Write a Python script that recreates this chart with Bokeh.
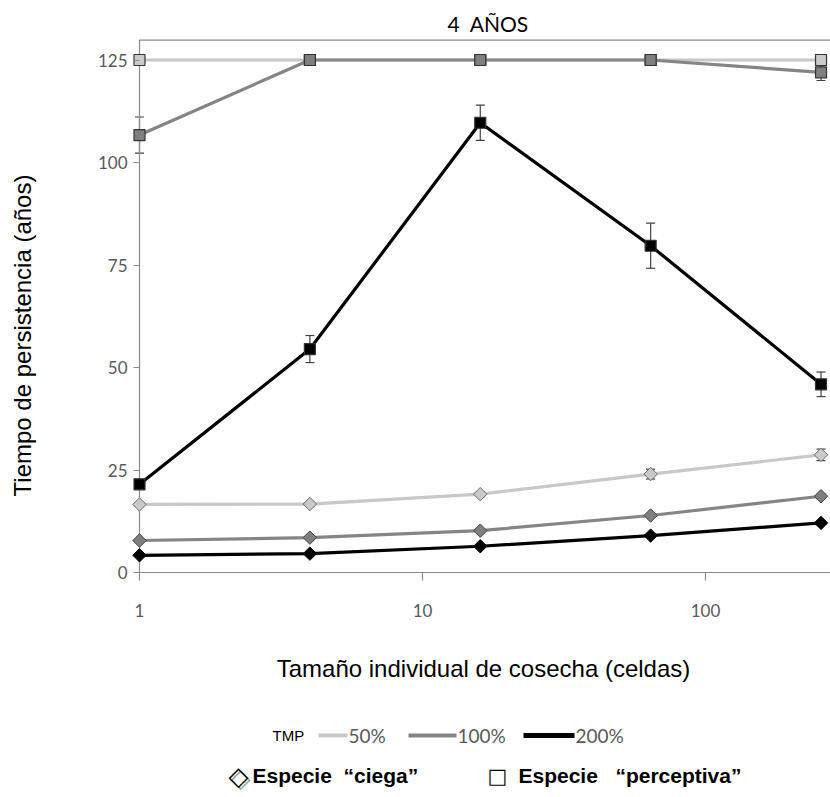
import math

from bokeh.embed import file_html
from bokeh.models import (BoxAnnotation, ColumnDataSource, FixedTicker, Label,
                          NumeralTickFormatter, Range1d, TeeHead, Whisker)
from bokeh.plotting import figure
from bokeh.resources import INLINE

# Harvest patch size (cells) on a log axis
harvest_size = [1, 4, 16, 64, 256]
y_ticks = [0, 25, 50, 75, 100, 125]
x_ticks = [1, 10, 100]

# "Perceptiva" species (squares): persistence time (years) and error
perc_50 = [125.0, 125.0, 125.0, 125.0, 125.0]
perc_50_err = [0.0, 0.0, 0.0, 0.0, 0.0]
perc_100 = [106.7, 125.0, 125.0, 125.0, 122.0]
perc_100_err = [4.4, 0.0, 0.0, 0.0, 2.0]
perc_200 = [21.5, 54.5, 109.7, 79.7, 45.9]
perc_200_err = [0.8, 3.3, 4.3, 5.5, 3.0]

# "Ciega" species (diamonds)
ciega_50 = [16.6, 16.7, 19.1, 24.0, 28.7]
ciega_50_err = [0.5, 0.6, 0.6, 1.2, 1.4]
ciega_100 = [7.8, 8.5, 10.2, 13.9, 18.6]
ciega_100_err = [0.3, 0.3, 0.4, 0.5, 0.6]
ciega_200 = [4.2, 4.6, 6.4, 9.0, 12.1]
ciega_200_err = [0.2, 0.2, 0.3, 0.4, 0.5]

tmp_labels = ["50%", "100%", "200%"]

LINE_COLORS = ["#c8c8c8", "#858585", "#000000"]
FILL_COLORS = ["#cacaca", "#7f7f7f", "#000000"]
EDGE_COLORS = ["#6a6a6a", "#404040", "#000000"]
AXIS_GRAY = "#8a8a8a"
LABEL_GRAY = "#595959"

W, H = 830, 797
TOP = 39                      # plotting area starts under the title
PX_PER_DECADE = 283.0
AXIS_X_PX, AXIS_Y_PX = 139, 572   # where x = 1 and y = 0 fall on the page
PX_PER_YEAR = (AXIS_Y_PX - TOP) / 130.0

X_START = 10 ** (-AXIS_X_PX / PX_PER_DECADE)
X_END = 10 ** ((W - AXIS_X_PX) / PX_PER_DECADE)
Y_END = 130
Y_START = -(H - AXIS_Y_PX) / PX_PER_YEAR

p = figure(width=W, height=H, x_axis_type="log",
           x_range=Range1d(X_START, X_END), y_range=Range1d(Y_START, Y_END),
           output_backend="svg", toolbar_location=None,
           min_border_left=0, min_border_right=0,
           min_border_top=TOP, min_border_bottom=0)
p.outline_line_color = None
p.xgrid.visible = False
p.ygrid.visible = False

p.title.text = "4\u00a0\u00a0AÑOS"
p.title.align = "left"
p.title.offset = 447
p.title.text_font = "Lato"
p.title.text_font_size = "21px"
p.title.text_font_style = "normal"
p.title.text_color = "#000000"
p.title.standoff = 7

# axes cross at x = 1, y = 0
p.xaxis.ticker = FixedTicker(ticks=x_ticks)
p.xaxis.formatter = NumeralTickFormatter(format="0")
p.yaxis.ticker = FixedTicker(ticks=y_ticks)
p.yaxis.fixed_location = 1
p.xaxis.fixed_location = 0
for ax in (p.xaxis, p.yaxis):
    ax.axis_line_color = None
    ax.major_tick_line_color = AXIS_GRAY
    ax.major_tick_line_width = 1.2
    ax.major_tick_in = 0
    ax.minor_tick_line_color = None
    ax.major_label_text_font = "Lato"
    ax.major_label_text_font_size = "17px"
    ax.major_label_text_color = LABEL_GRAY
p.yaxis.major_tick_out = 6
p.yaxis.major_label_standoff = 6
p.xaxis.major_tick_out = 8
p.xaxis.major_label_standoff = 23

# axis lines and the top frame line
p.segment(x0=[1, 1], y0=[0, Y_END], x1=[X_END, X_END], y1=[0, Y_END],
          line_color=AXIS_GRAY, line_width=[1.2, 2.6])
p.segment(x0=[1], y0=[0], x1=[1], y1=[Y_END], line_color=AXIS_GRAY, line_width=1.2)


def add_series(values, errors, idx, marker):
    lower = [v - e for v, e in zip(values, errors)]
    upper = [v + e for v, e in zip(values, errors)]
    src = ColumnDataSource(dict(x=harvest_size, y=values))
    p.line("x", "y", source=src, line_color=LINE_COLORS[idx], line_width=3.2)
    if marker == "diamond":
        p.scatter("x", "y", source=src, marker="square", angle=math.pi / 4, size=9.5,
                  fill_color=FILL_COLORS[idx], line_color=EDGE_COLORS[idx], line_width=1)
    else:
        p.scatter("x", "y", source=src, marker="square", size=11,
                  fill_color=FILL_COLORS[idx], line_color="#333333", line_width=1.2)
    err_src = ColumnDataSource(dict(
        x=[x for x, e in zip(harvest_size, errors) if e > 0],
        lower=[l for l, e in zip(lower, errors) if e > 0],
        upper=[u for u, e in zip(upper, errors) if e > 0]))
    p.add_layout(Whisker(base="x", lower="lower", upper="upper", source=err_src,
                         line_color="#404040", line_width=1.2,
                         upper_head=TeeHead(size=9, line_color="#404040", line_width=1.2),
                         lower_head=TeeHead(size=9, line_color="#404040", line_width=1.2)))


for i, (vals, errs) in enumerate([(ciega_50, ciega_50_err), (ciega_100, ciega_100_err),
                                  (ciega_200, ciega_200_err)]):
    add_series(vals, errs, i, "diamond")
for i, (vals, errs) in enumerate([(perc_50, perc_50_err), (perc_100, perc_100_err),
                                  (perc_200, perc_200_err)]):
    add_series(vals, errs, i, "square")


# ---- texts placed in page pixels (screen units run from the frame's bottom-left)
def put_text(page_x, page_y, text, **kw):
    opts = dict(text_baseline="middle", text_align="left", text_color="#000000")
    opts.update(kw)
    p.add_layout(Label(x=page_x, y=H - page_y, x_units="screen", y_units="screen",
                       text=text, **opts))


put_text(22, 335, "Tiempo de persistencia (años)", angle=math.pi / 2, text_align="center",
         text_font="Liberation Sans", text_font_size="24px")
put_text(483, 668, "Tamaño individual de cosecha (celdas)", text_align="center",
         text_font="Liberation Sans", text_font_size="24px")

ROW1, ROW2 = 735, 775

put_text(272, ROW1, "TMP", text_font="Liberation Sans", text_font_size="15px")
sample_x0 = [318, 408, 523]
sample_x1 = [347, 456, 574]
sample_w = [4, 4, 5]
for lab, x0, x1, w, col in zip(tmp_labels, sample_x0, sample_x1, sample_w, LINE_COLORS):
    p.add_layout(BoxAnnotation(left=x0, right=x1, top=H - (ROW1 - w / 2),
                               bottom=H - (ROW1 + w / 2), left_units="screen",
                               right_units="screen", top_units="screen",
                               bottom_units="screen", fill_color=col, fill_alpha=1,
                               line_color=None))
    put_text(x1 + 1, ROW1, lab, text_font="Lato", text_font_size="19px",
             text_color=LABEL_GRAY)

# species key: hollow diamond (with soft shadow) and hollow square
put_text(240, ROW2 + 2, "\u25c7", text_font="DejaVu Sans", text_font_size="26px",
         text_font_style="bold", text_align="center", text_color="#9a9a9a")
put_text(238, ROW2, "\u25c7", text_font="DejaVu Sans", text_font_size="26px",
         text_font_style="bold", text_align="center")
put_text(497, ROW2, "\u25a1", text_font="DejaVu Sans", text_font_size="21px",
         text_align="center")
put_text(252, ROW2, "Especie \u00a0“ciega”", text_font="Liberation Sans",
         text_font_size="21px", text_font_style="bold")
put_text(518, ROW2, "Especie \u00a0\u00a0“perceptiva”", text_font="Liberation Sans",
         text_font_size="21px", text_font_style="bold")

open("out.html", "w").write(file_html(p, INLINE))
